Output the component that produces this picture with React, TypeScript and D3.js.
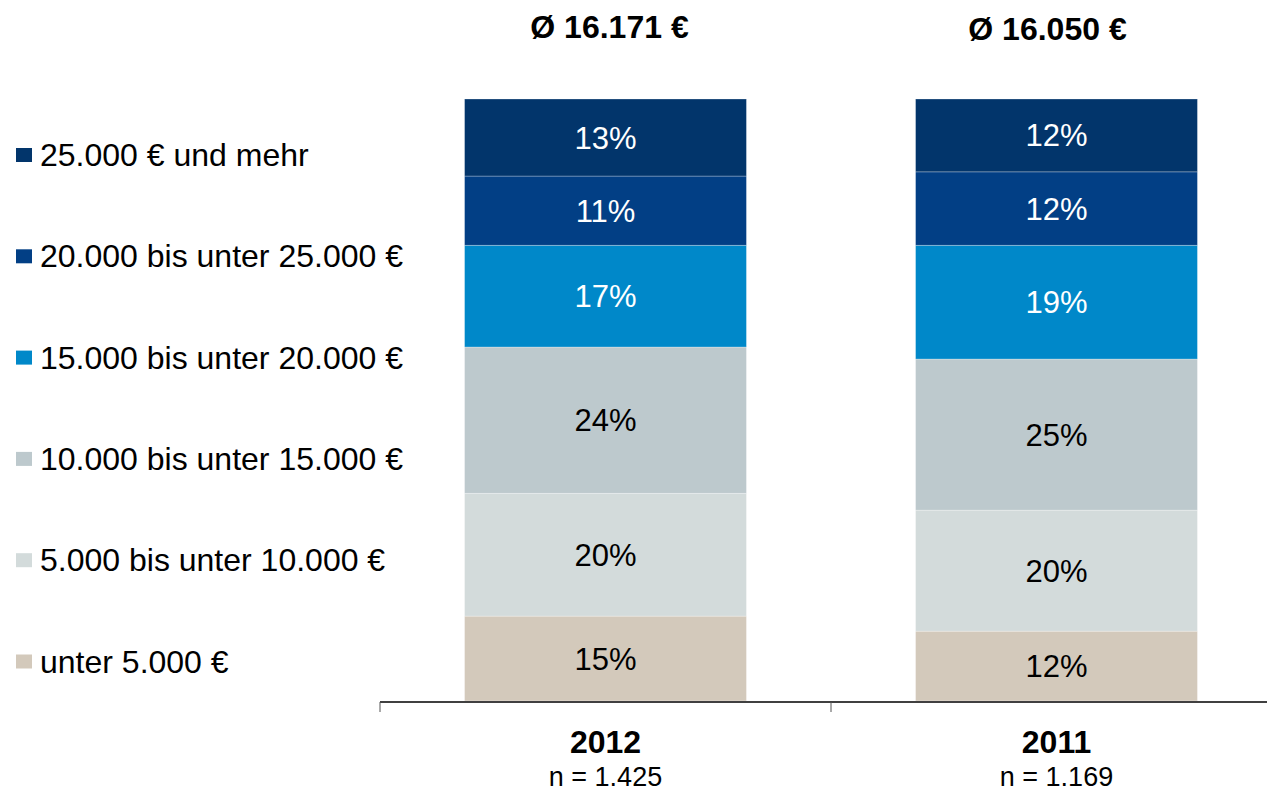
import React from "react";
import * as d3 from "d3";

const years = ["2012", "2011"];
const sampleSizes = ["n = 1.425", "n = 1.169"];
const averages = ["Ø 16.171 €", "Ø 16.050 €"];
// bottom to top
const bands = [
  "unter 5.000 €",
  "5.000 bis unter 10.000 €",
  "10.000 bis unter 15.000 €",
  "15.000 bis unter 20.000 €",
  "20.000 bis unter 25.000 €",
  "25.000 € und mehr",
];
const values2012 = [14.1, 20.4, 24.3, 16.9, 11.5, 12.8];
const values2011 = [11.6, 20.1, 25.1, 18.9, 12.2, 12.1];
const labels2012 = ["15%", "20%", "24%", "17%", "11%", "13%"];
const labels2011 = ["12%", "20%", "25%", "19%", "12%", "12%"];
const colors = ["#d3c9bb", "#d3dbdb", "#bdc9cd", "#0088c9", "#023f85", "#02356b"];
const textColors = ["#000", "#000", "#000", "#fff", "#fff", "#fff"];

const W = 1267;
const H = 792;
const FONT = "'Liberation Sans', Arial, Helvetica, sans-serif";

export default function App() {
  const series = [
    { year: years[0], values: values2012, labels: labels2012 },
    { year: years[1], values: values2011, labels: labels2011 },
  ];
  const x = d3
    .scaleBand<string>()
    .domain(years)
    .range([380, 1282])
    .paddingInner(0.375)
    .paddingOuter(0.1875);
  const y = d3.scaleLinear().domain([0, 100]).range([701, 99]);
  const titleOffsets = [4, -9];
  const titleY = [38, 40];

  return (
    <svg
      width={W}
      height={H}
      style={{ position: "absolute", left: 0, top: 0, fontFamily: FONT }}
    >
      <rect x={0} y={0} width={W} height={H} fill="#fff" />
      {series.map((s, si) => {
        const cum = d3.cumsum(s.values);
        const x0 = x(s.year)!;
        const bw = x.bandwidth();
        return (
          <g key={s.year}>
            {s.values.map((v, i) => {
              const top = y(cum[i]);
              const bot = y(cum[i] - v);
              return (
                <g key={i}>
                  <rect
                    x={x0}
                    y={top}
                    width={bw}
                    height={bot - top}
                    fill={colors[i]}
                    stroke="#ffffff"
                    strokeOpacity={0.35}
                    strokeWidth={0.8}
                  />
                  <text
                    x={x0 + bw / 2}
                    y={(top + bot) / 2 + 11}
                    textAnchor="middle"
                    fontSize={31}
                    fill={textColors[i]}
                  >
                    {s.labels[i]}
                  </text>
                </g>
              );
            })}
            <text
              x={x0 + bw / 2 + titleOffsets[si]}
              y={titleY[si]}
              textAnchor="middle"
              fontSize={32}
              fontWeight="bold"
              fill="#000"
            >
              {averages[si]}
            </text>
            <text
              x={x0 + bw / 2}
              y={753}
              textAnchor="middle"
              fontSize={32}
              fontWeight="bold"
              fill="#000"
            >
              {s.year}
            </text>
            <text
              x={x0 + bw / 2}
              y={786}
              textAnchor="middle"
              fontSize={27}
              fill="#000"
            >
              {sampleSizes[si]}
            </text>
          </g>
        );
      })}
      {/* axis */}
      <line x1={380} x2={W} y1={702} y2={702} stroke="#000" strokeWidth={1.3} />
      {[380, 380 + x.step(), 380 + 2 * x.step()].map((tx, i) => (
        <line key={i} x1={tx} x2={tx} y1={702} y2={712} stroke="#555" strokeWidth={1} />
      ))}
      {/* legend */}
      {bands
        .slice()
        .reverse()
        .map((b, i) => {
          const ci = bands.length - 1 - i;
          const cy = 155 + i * 101.3;
          return (
            <g key={b}>
              <rect x={16} y={cy - 7} width={16} height={14} fill={colors[ci]} />
              <text x={40} y={cy + 11} fontSize={32} fill="#000">
                {b}
              </text>
            </g>
          );
        })}
    </svg>
  );
}
